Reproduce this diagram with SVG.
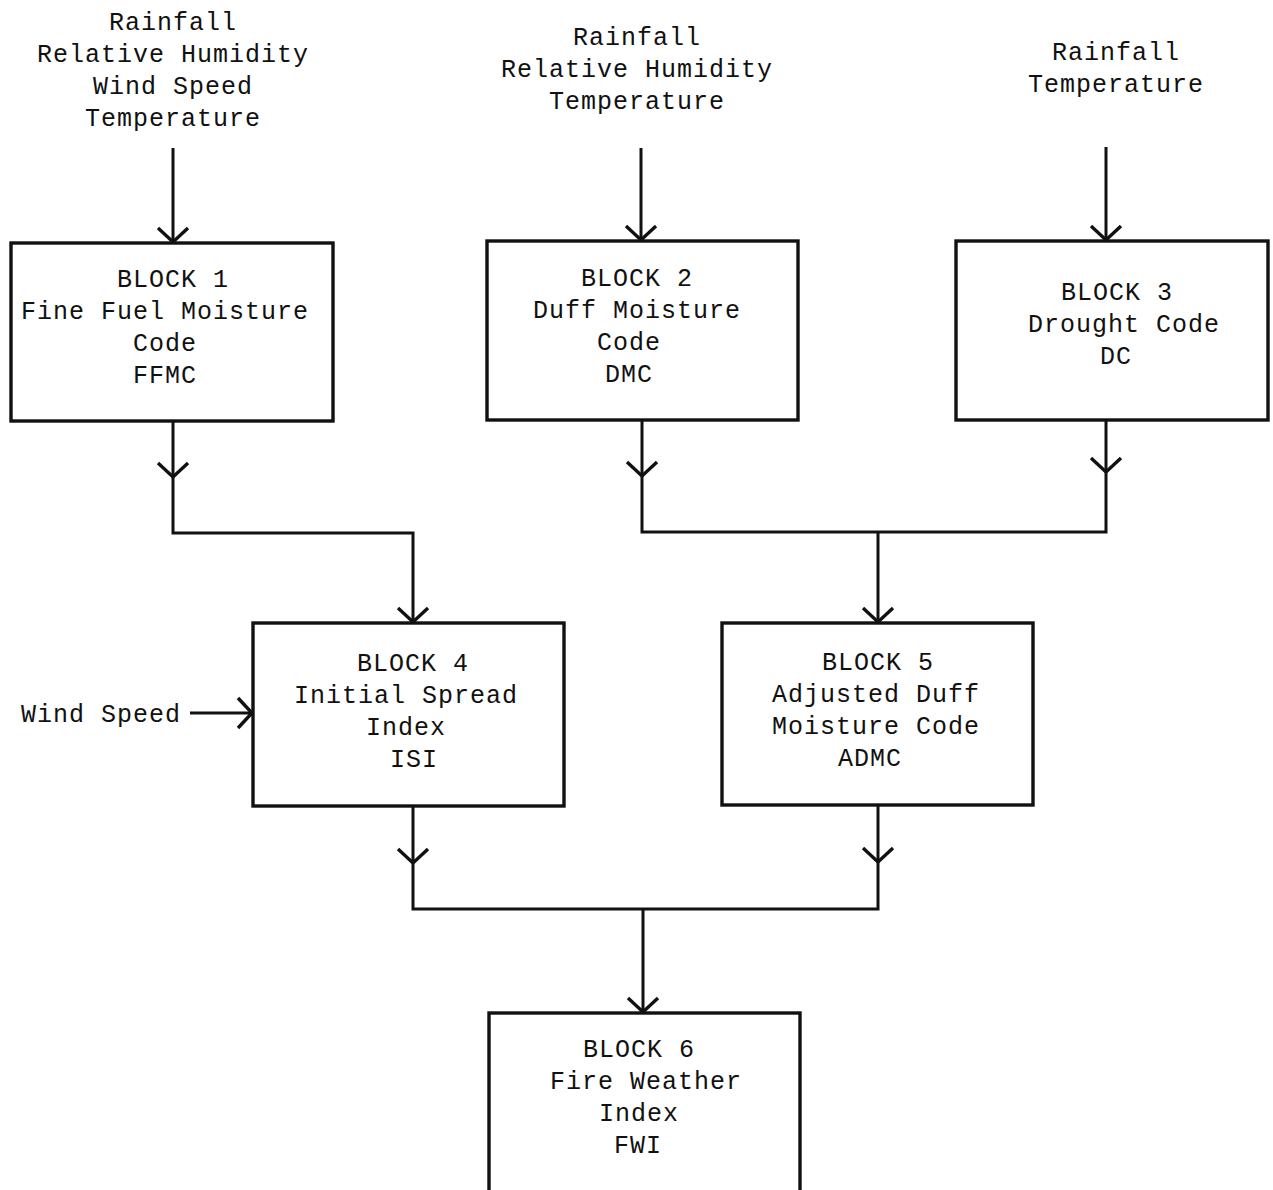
<svg xmlns="http://www.w3.org/2000/svg" width="1273" height="1190" viewBox="0 0 1273 1190">
<style>
text{font-family:"Liberation Mono","Courier New",monospace;font-size:25px;letter-spacing:1px;fill:#111;text-anchor:middle}
.box{fill:none;stroke:#111;stroke-width:3.4}
.ln{fill:none;stroke:#111;stroke-width:3}
.arr{marker-end:url(#v)}
</style>
<defs>
<marker id="v" markerUnits="userSpaceOnUse" markerWidth="40" markerHeight="40" viewBox="-20 -20 40 40" refX="0" refY="0" orient="auto">
<path d="M-14,-15 L0,0 L-14,15" fill="none" stroke="#111" stroke-width="3.4"/>
</marker>
</defs>
<rect width="1273" height="1190" fill="#fff"/>
<g id="inputs">
<text x="173" y="30">Rainfall</text>
<text x="173" y="62">Relative Humidity</text>
<text x="173" y="94">Wind Speed</text>
<text x="173" y="126">Temperature</text>
<text x="637" y="45">Rainfall</text>
<text x="637" y="77">Relative Humidity</text>
<text x="637" y="109">Temperature</text>
<text x="1116" y="60">Rainfall</text>
<text x="1116" y="92">Temperature</text>
<text x="101" y="722">Wind Speed</text>
</g>
<g id="block1">
<rect class="box" x="11" y="243" width="322" height="178"/>
<text x="173" y="287">BLOCK 1</text>
<text x="165" y="319">Fine Fuel Moisture</text>
<text x="165" y="351">Code</text>
<text x="165" y="383">FFMC</text>
</g>
<g id="block2">
<rect class="box" x="487" y="241" width="311" height="179"/>
<text x="637" y="286">BLOCK 2</text>
<text x="637" y="318">Duff Moisture</text>
<text x="629" y="350">Code</text>
<text x="629" y="382">DMC</text>
</g>
<g id="block3">
<rect class="box" x="956" y="241" width="312" height="179"/>
<text x="1117" y="300">BLOCK 3</text>
<text x="1124" y="332">Drought Code</text>
<text x="1116" y="364">DC</text>
</g>
<g id="block4">
<rect class="box" x="253" y="623" width="311" height="183"/>
<text x="413" y="671">BLOCK 4</text>
<text x="406" y="703">Initial Spread</text>
<text x="406" y="735">Index</text>
<text x="414" y="767">ISI</text>
</g>
<g id="block5">
<rect class="box" x="722" y="623" width="311" height="182"/>
<text x="878" y="670">BLOCK 5</text>
<text x="876" y="702">Adjusted Duff</text>
<text x="876" y="734">Moisture Code</text>
<text x="870" y="766">ADMC</text>
</g>
<g id="block6">
<rect class="box" x="489" y="1013" width="311" height="190"/>
<text x="639" y="1057">BLOCK 6</text>
<text x="646" y="1089">Fire Weather</text>
<text x="639" y="1121">Index</text>
<text x="638" y="1153">FWI</text>
</g>
<g id="connectors">
<line class="ln arr" x1="173" y1="148" x2="173" y2="242"/>
<line class="ln arr" x1="641" y1="148" x2="641" y2="240"/>
<line class="ln arr" x1="1106" y1="147" x2="1106" y2="240"/>
<line class="ln arr" x1="190" y1="713" x2="252" y2="713"/>
<line class="ln arr" x1="173" y1="421" x2="173" y2="477"/>
<polyline class="ln arr" points="173,477 173,533 413,533 413,622"/>
<line class="ln arr" x1="642" y1="420" x2="642" y2="476"/>
<line class="ln arr" x1="1106" y1="420" x2="1106" y2="472"/>
<polyline class="ln" points="642,476 642,532 1106,532 1106,472"/>
<line class="ln arr" x1="878" y1="532" x2="878" y2="622"/>
<line class="ln arr" x1="413" y1="806" x2="413" y2="863"/>
<line class="ln arr" x1="878" y1="805" x2="878" y2="862"/>
<polyline class="ln" points="413,863 413,909 878,909 878,862"/>
<line class="ln arr" x1="643" y1="909" x2="643" y2="1012"/>
</g>
</svg>
